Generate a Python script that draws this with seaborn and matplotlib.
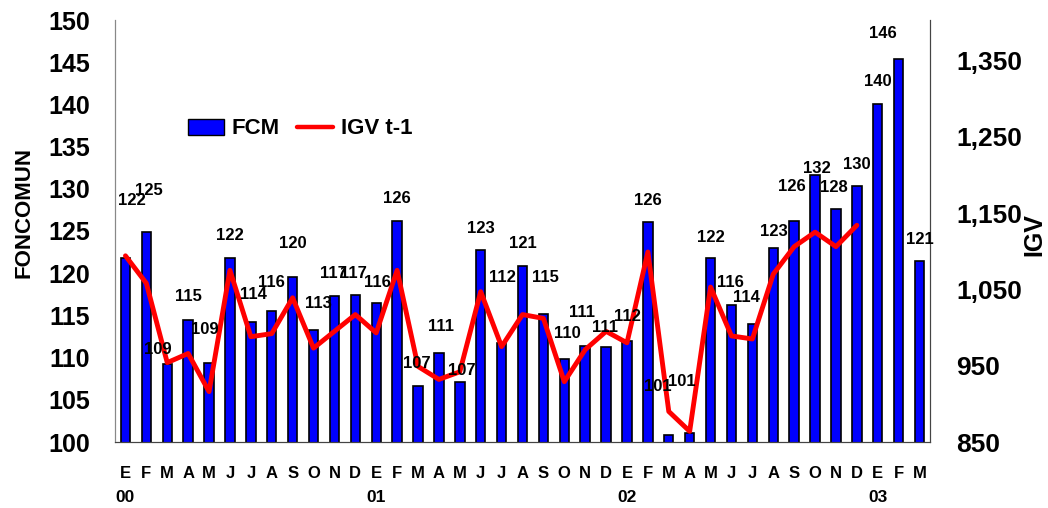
import matplotlib
matplotlib.use('Agg')
import matplotlib.pyplot as plt
from matplotlib.patches import Patch
from matplotlib.lines import Line2D
from matplotlib.transforms import blended_transform_factory
import pandas as pd
import seaborn as sns

# Data: monthly FONCOMUN (bars) and IGV lagged one month (line), Jan 2000 - Mar 2003
months = ['E', 'F', 'M', 'A', 'M', 'J', 'J', 'A', 'S', 'O', 'N', 'D',
          'E', 'F', 'M', 'A', 'M', 'J', 'J', 'A', 'S', 'O', 'N', 'D',
          'E', 'F', 'M', 'A', 'M', 'J', 'J', 'A', 'S', 'O', 'N', 'D',
          'E', 'F', 'M']
year_pos = [0, 12, 24, 36]
year_labels = ['00', '01', '02', '03']
fcm = [121.8, 124.9, 109.2, 114.5, 109.4, 121.8, 114.2, 115.5, 119.5, 113.3, 117.3, 117.4,
       116.5, 126.2, 106.6, 110.6, 107.1, 122.7, 111.7, 120.8, 115.2, 109.8, 111.4, 111.3,
       112.0, 126.1, 100.8, 101.1, 121.8, 116.2, 114.0, 123.0, 126.2, 131.6, 127.6, 130.3,
       140.0, 145.4, 121.4]
fcm_labels = [122, 125, 109, 115, 109, 122, 114, 116, 120, 113, 117, 117,
              116, 126, 107, 111, 107, 123, 112, 121, 115, 110, 111, 111,
              112, 126, 101, 101, 122, 116, 114, 123, 126, 132, 128, 130,
              140, 146, 121]
igv = [1094, 1058, 954, 966, 916, 1075, 988, 992, 1039, 973, 995, 1017,
       993, 1075, 949, 932, 942, 1047, 975, 1017, 1012, 929, 971, 995,
       980, 1099, 890, 864, 1053, 989, 985, 1070, 1106, 1125, 1106, 1134]

# label offsets in pixels (dx, dy above bar top), as placed in the original
lab_dx = [6, 3, -9, 0, -4, 0, 3, 0, 0, 5, -1, -2, 1, 0, -1, 2, 2, 0, 1, 0, 2, 3, -3, -1,
          0, 0, -11, -8, 0, -1, -6, 1, -2, 2, -2, 0, 0, -16, 0]
lab_dy = [58, 41, 15, 23, 33, 23, 28, 29, 34, 26, 22, 22, 20, 22, 23, 26, 12, 22, 66, 23,
          36, 26, 33, 19, 24, 21, 49, 51, 21, 23, 26, 16, 34, 7, 22, 22, 23, 25, 22]

idx = list(range(len(months)))
df_bar = pd.DataFrame({'idx': idx, 'FCM': fcm})
df_line = pd.DataFrame({'idx': idx[:len(igv)], 'IGV': igv})

sns.set_style('white')
plt.rcParams['font.family'] = ['Liberation Sans', 'DejaVu Sans']
plt.rcParams['font.weight'] = 'bold'
plt.rcParams['text.color'] = 'black'
plt.rcParams['xtick.color'] = 'black'
plt.rcParams['ytick.color'] = 'black'

fig = plt.figure(figsize=(10.48, 5.08), dpi=100)
ax = fig.add_axes([115 / 1048, 1 - 442 / 508, 815 / 1048, 422 / 508])

sns.barplot(data=df_bar, x='idx', y='FCM', color='#0000FF', saturation=1,
            edgecolor='black', linewidth=1.2, width=0.45, ax=ax)
ax.set_ylim(100, 150)
ax.set_xlim(-0.5, len(months) - 0.5)
ax.set_yticks(range(100, 151, 5))
ax.set_yticklabels([str(v) for v in range(100, 151, 5)], fontsize=18, fontweight='bold')
ax.set_ylabel('')
ax.set_xlabel('')
ax.set_xticks(idx)
ax.set_xticklabels(months, fontsize=12, fontweight='bold')
ax.tick_params(axis='x', length=0, pad=17)
ax.tick_params(axis='y', length=0, pad=18)

# year labels under each January
tr = blended_transform_factory(ax.transData, fig.transFigure)
for p, y in zip(year_pos, year_labels):
    ax.text(p, 1 - 498 / 508, y, transform=tr, ha='center', va='center',
            fontsize=12.5, fontweight='bold')

ax2 = ax.twinx()
sns.lineplot(data=df_line, x='idx', y='IGV', color='#FF0000', linewidth=3.5, ax=ax2)
ax2.set_ylim(850, 1403)
ax2.set_yticks(range(850, 1351, 100))
ax2.set_yticklabels([f'{v:,}' for v in range(850, 1351, 100)], fontsize=19, fontweight='bold')
ax2.tick_params(axis='y', length=0, pad=19)
ax2.set_ylabel('')
ax2.set_xlim(-0.5, len(months) - 0.5)

for a in (ax, ax2):
    a.spines['top'].set_visible(False)
    a.spines['left'].set_color('#888888')
    a.spines['bottom'].set_color('#444444')
    a.spines['right'].set_color('#444444')
    a.grid(False)

# data labels drawn above the line
for i, v in enumerate(fcm):
    ax2.annotate(str(fcm_labels[i]), xy=(i, v), xycoords=ax.transData,
                 xytext=(lab_dx[i], lab_dy[i]), textcoords='offset pixels',
                 ha='center', va='center', fontsize=12, fontweight='bold')

fig.text(24 / 1048, 1 - 213 / 508, 'FONCOMUN', rotation=90, ha='center', va='center',
         fontsize=16, fontweight='bold')
fig.text(1034 / 1048, 1 - 235 / 508, 'IGV', rotation=90, ha='center', va='center',
         fontsize=18, fontweight='bold')

handles = [Patch(facecolor='#0000FF', edgecolor='black', linewidth=1),
           Line2D([0], [0], color='#FF0000', linewidth=3.2)]
fig.legend(handles, ['FCM', 'IGV t-1'], loc='center left',
           bbox_to_anchor=(188 / 1048, 1 - 129 / 508), ncol=2, frameon=False,
           prop={'size': 16, 'weight': 'bold'}, handlelength=1.6, handleheight=0.73,
           handletextpad=0.36, columnspacing=0.8, borderpad=0, borderaxespad=0)

fig.savefig('out.png', dpi=100)
